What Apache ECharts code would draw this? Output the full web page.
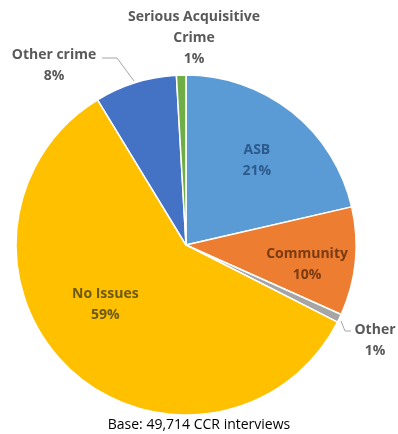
<!DOCTYPE html>
<html>
<head>
<meta charset="utf-8">
<script src="https://cdn.jsdelivr.net/npm/echarts@6/dist/echarts.min.js"></script>
<style>html,body{margin:0;padding:0;background:#fff}#c{width:398px;height:434px}</style>
</head>
<body>
<div id="c"></div>
<script>
var categories = ['ASB', 'Community', 'Other', 'No Issues', 'Other crime', 'Serious Acquisitive\nCrime'];
var values = [21.4, 10.3, 0.8, 58.8, 7.8, 0.9];
var percentLabels = ['21%', '10%', '1%', '59%', '8%', '1%'];
var colors = ['#5B9BD5', '#ED7D31', '#A5A5A5', '#FFC000', '#4472C4', '#70AD47'];
var insideColors = ['#2c5a8c', '#7a3a12', null, '#6b5a14', null, null];
var baseText = 'Base: 49,714 CCR interviews';

var FONT = 'Open Sans';
var cx = 186, cy = 245, R = 170;
var insideIdx = [0, 1, 3];

var mainData = categories.map(function (c, i) {
  var isIn = insideIdx.indexOf(i) >= 0;
  return { name: c, value: values[i], itemStyle: { color: colors[i] },
    label: { show: !isIn }, labelLine: { show: !isIn && i !== 5 } };
});
var labelData = categories.map(function (c, i) {
  var isIn = insideIdx.indexOf(i) >= 0;
  return {
    name: c, value: values[i],
    itemStyle: { color: 'transparent' },
    label: { show: isIn, color: insideColors[i] || '#595959' }
  };
});

// explicit label anchor placements for outside labels
var outsidePos = {
  2: { x: 375, y: 341, line: [[341, 321], [345, 331], [351, 331]] },
  4: { x: 54, y: 66, line: [[134, 81], [117, 58], [102, 58]] },
  5: { x: 194, y: 38, line: null }
};
// nudges for inside labels (Excel places them at varying radii)
var insideShift = { 0: [-3, 8], 1: [3, 8], 3: [0, -27] };

var chart = echarts.init(document.getElementById('c'), null, { renderer: 'canvas' });
chart.setOption({
  backgroundColor: '#ffffff',
  animation: false,
  graphic: [{
    type: 'text', left: 'center', top: 418,
    style: { text: baseText, font: '14px "' + FONT + '"', fill: '#000000' }
  }],
  series: [
    {
      type: 'pie', center: [cx, cy], radius: [0, R], startAngle: 90, clockwise: true,
      silent: true,
      data: mainData,
      itemStyle: { borderColor: '#ffffff', borderWidth: 1.5 },
      label: {
        show: true, position: 'outside', overflow: 'none',
        formatter: function (p) { return p.name + '\n' + percentLabels[p.dataIndex]; },
        color: '#595959', fontFamily: FONT, fontWeight: 'bold', fontSize: 14, lineHeight: 21, align: 'center'
      },
      labelLine: { show: true, lineStyle: { color: '#a6a6a6', width: 1 }, length: 10, length2: 10 },
      labelLayout: function (p) {
        var o = outsidePos[p.dataIndex];
        if (!o) return {};
        var r = { x: o.x, y: o.y, align: 'center', verticalAlign: 'middle' };
        if (o.line) r.labelLinePoints = o.line;
        return r;
      },
      emphasis: { disabled: true }
    },
    {
      type: 'pie', center: [cx, cy], radius: [0, R * 1.36], startAngle: 90, clockwise: true,
      silent: true, z: 3,
      data: labelData,
      label: {
        position: 'inside', overflow: 'none',
        formatter: function (p) { return p.name + '\n' + percentLabels[p.dataIndex]; },
        fontFamily: FONT, fontWeight: 'bold', fontSize: 14, lineHeight: 21, align: 'center'
      },
      labelLine: { show: false },
      labelLayout: function (p) {
        var s = insideShift[p.dataIndex];
        return s ? { dx: s[0], dy: s[1] } : {};
      },
      emphasis: { disabled: true }
    }
  ]
});
</script>
</body>
</html>
